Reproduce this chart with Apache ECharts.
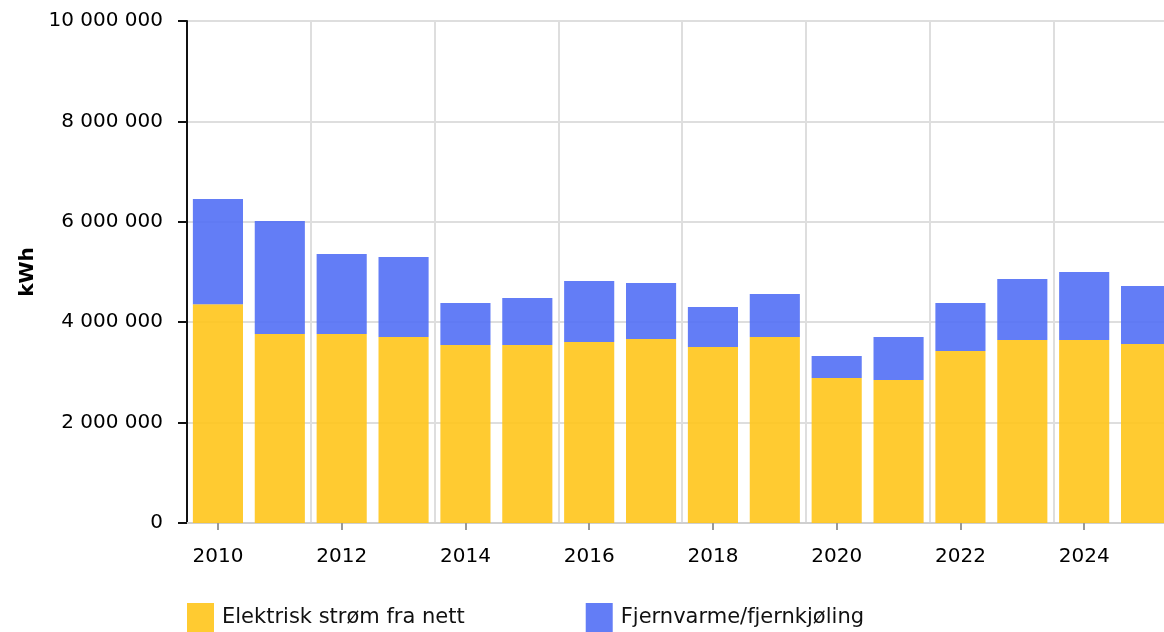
<!DOCTYPE html>
<html>
<head>
<meta charset="utf-8">
<script src="https://cdn.jsdelivr.net/npm/echarts@6/dist/echarts.min.js"></script>
<style>
html,body{margin:0;padding:0;background:#fff;}
#chart{width:1164px;height:632px;}
</style>
</head>
<body>
<div id="chart"></div>
<script>
// år og verdier (kWh)
var years = ['2010','2011','2012','2013','2014','2015','2016','2017','2018','2019','2020','2021','2022','2023','2024','2025'];
var strom = [4360000,3765000,3765000,3705000,3546000,3546000,3606000,3665000,3506000,3705000,2888000,2849000,3426000,3645000,3645000,3566000];
var fjernvarme = [2094000,2251000,1594000,1594000,836000,936000,1215000,1116000,797000,857000,439000,856000,956000,1216000,1355000,1155000];
var yTicks = [0,2000000,4000000,6000000,8000000,10000000];

var fontFam = '"DejaVu Sans", Verdana, sans-serif';

function fmt(v){
    return String(v).replace(/\B(?=(\d{3})+(?!\d))/g,' ');
}

var chart = echarts.init(document.getElementById('chart'));
var option = {
    animation:false,
    grid:{
        left:187,
        width:990,
        top:21,
        bottom:109,
        containLabel:false,
        outerBoundsMode:'none'
    },
    legend:{
        left:187,
        top:603,
        padding:0,
        itemWidth:27,
        itemHeight:30,
        itemGap:121,
        icon:'rect',
        textStyle:{
            fontFamily:fontFam,
            fontSize:21,
            color:'#111',
            padding:[8,0,0,3]
        },
        data:['Elektrisk strøm fra nett','Fjernvarme/fjernkjøling']
    },
    xAxis:{
        type:'category',
        data:years,
        axisLine:{
            lineStyle:{color:'#cfcfcf',width:2}
        },
        axisTick:{
            show:true,
            alignWithLabel:true,
            interval:1,
            length:7,
            lineStyle:{color:'#999',width:2}
        },
        axisLabel:{
            interval:1,
            margin:24,
            fontFamily:fontFam,
            fontSize:20,
            color:'#000'
        },
        splitLine:{
            show:true,
            interval:1,
            lineStyle:{color:'#dedede',width:2}
        }
    },
    yAxis:{
        type:'value',
        min:yTicks[0],
        max:yTicks[yTicks.length-1],
        interval:2000000,
        name:'kWh',
        nameLocation:'middle',
        nameGap:148,
        nameTextStyle:{
            fontFamily:fontFam,
            fontSize:20,
            fontWeight:'bold',
            color:'#000'
        },
        axisLine:{
            show:true,
            lineStyle:{color:'#111',width:2}
        },
        axisTick:{
            show:true,
            length:9,
            lineStyle:{color:'#111',width:2}
        },
        axisLabel:{
            margin:24,
            fontFamily:fontFam,
            fontSize:20,
            color:'#000',
            formatter:function(v){return fmt(v);}
        },
        splitLine:{
            show:true,
            lineStyle:{color:'#dedede',width:2}
        }
    },
    series:[
        {
            name:'Elektrisk strøm fra nett',
            type:'bar',
            stack:'total',
            barWidth:'81%',
            itemStyle:{color:'rgba(255,197,27,0.9)'},
            data:strom
        },
        {
            name:'Fjernvarme/fjernkjøling',
            type:'bar',
            stack:'total',
            barWidth:'81%',
            itemStyle:{color:'rgba(82,111,245,0.9)'},
            data:fjernvarme
        }
    ]
};
chart.setOption(option);
</script>
</body>
</html>
